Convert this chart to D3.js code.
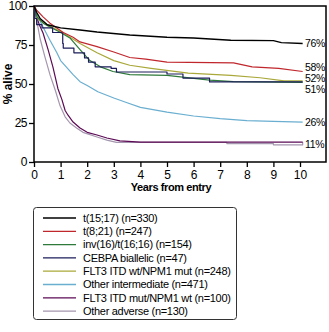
<!DOCTYPE html>
<html><head><meta charset="utf-8">
<script src="https://cdnjs.cloudflare.com/ajax/libs/d3/7.8.5/d3.min.js"></script>
<style>body{margin:0;background:#fff}svg{display:block}text{font-family:"Liberation Sans",Arial,sans-serif}</style>
</head><body><div id="chart"></div>
<script>
const xTicks = [0,1,2,3,4,5,6,7,8,9,10];
const yTicks = [0,25,50,75,100];
const groups = ["t(15;17) (n=330)","t(8;21) (n=247)","inv(16)/t(16;16) (n=154)","CEBPA biallelic (n=47)","FLT3 ITD wt/NPM1 mut (n=248)","Other intermediate (n=471)","FLT3 ITD mut/NPM1 wt (n=100)","Other adverse (n=130)"];
const colors = ["#000000","#c0272d","#2e7a3a","#1c1c5a","#a9a83a","#6aaed0","#5c0a55","#a496ae"];
const endLabels = ["76%","58%","52%","51%","26%","11%"];
const endLabelY = [76,61,53.6,46.4,25.6,11.5];

const s_t1517 = [[0,100],[0.1,96],[0.23,92],[0.5,88],[1,86],[1.73,84.6],[2.37,83.3],[3.6,81.4],[5,80],[6,79.5],[7.4,78],[9,77.8],[9.3,76.5],[10.1,76]];
const s_t821 = [[0,100],[0.1,97.4],[0.34,93],[0.6,89],[1.1,83],[1.47,80],[1.73,77],[2.37,74],[3,70.5],[3.6,67],[4.2,66],[5,64],[7.5,63.5],[8.2,61],[9.2,60],[10.1,58]];
const s_inv16 = [[0,100],[0.11,93],[0.34,89],[0.6,86.5],[1,83],[1.35,79.5],[1.73,72],[2.1,65],[2.5,61],[2.97,58],[3.6,56],[5,55.5],[6.6,52.5],[7.5,51.5],[10.1,51]];
const s_cebpa = [[0,100],[0.03,92],[0.1,88],[0.3,86],[0.7,83],[1.08,76],[1.1,73],[1.5,70],[1.9,66.7],[2.05,64],[2.3,61],[2.9,60],[3.1,57.7],[5,56.4],[5.6,53.8],[6.6,51.3],[10.1,51.3]];
const s_flt3wt = [[0,100],[0.11,92],[0.5,88],[1.1,82.7],[1.73,76],[2.37,70],[3,65],[3.6,62],[4.4,60],[5.8,57],[7.4,55.5],[8.5,54],[9.4,52],[10.1,52]];
const s_otherint = [[0,100],[0.15,93],[0.34,86.5],[0.6,78],[0.86,70],[1,65],[1.47,56],[1.73,51.5],[2,49],[2.4,45],[3,41],[3.5,38],[4,35],[5,32],[6,29.5],[7,27.8],[8,26.5],[9,26],[10.1,25.6]];
const s_flt3mut = [[0,100],[0.1,93],[0.2,88],[0.34,82.7],[0.53,72],[0.71,61],[0.9,47],[1.05,40],[1.17,33],[1.28,30],[1.47,25.6],[1.73,21.8],[2,19],[2.37,17.3],[2.74,15.4],[3.23,13.5],[4,12.8],[10.1,12.8]];
const s_otheradv = [[0,100],[0.05,95],[0.12,89],[0.23,79],[0.4,68],[0.6,56],[0.8,46],[0.98,36],[1.17,29],[1.35,25],[1.6,21.8],[1.84,19],[2.37,16],[2.74,14],[3.1,12.6],[7.25,12.6],[7.25,11.8],[9,11.8],[9,11],[10.1,11],[10.1,12.8]];
const seriesList = [s_t1517,s_t821,s_inv16,s_cebpa,s_flt3wt,s_otherint,s_flt3mut,s_otheradv];
const drawOrder = [5,7,6,4,2,3,1,0];

const W=329,H=332;
const svg=d3.select("#chart").append("svg").attr("width",W).attr("height",H);
const x=d3.scaleLinear().domain([0,10]).range([34,300]);
const y=d3.scaleLinear().domain([0,100]).range([162,6]);

svg.append("rect").attr("x",34).attr("y",6).attr("width",292).attr("height",156)
  .attr("fill","none").attr("stroke","#000").attr("stroke-width",1.5);

const line=d3.line().x(d=>x(d[0])).y(d=>y(d[1]));
const stepLine=d3.line().x(d=>x(d[0])).y(d=>y(d[1])).curve(d3.curveStepAfter);
drawOrder.forEach(i=>{
  svg.append("path").datum(seriesList[i]).attr("fill","none")
    .attr("stroke",colors[i]).attr("stroke-width",i===0?1.4:1.2)
    .attr("stroke-linejoin","round")
    .attr("d",(i===3?stepLine:line));
});

const xAxis=svg.append("g").attr("transform","translate(0,162)")
  .call(d3.axisBottom(x).tickValues(xTicks).tickSize(5).tickPadding(3).tickSizeOuter(0));
xAxis.select(".domain").remove();
xAxis.selectAll("line").attr("stroke-width",1.3);
xAxis.selectAll("text").attr("font-size",12).attr("fill","#000");
const yAxis=svg.append("g").attr("transform","translate(34,0)")
  .call(d3.axisLeft(y).tickValues(yTicks).tickSize(5).tickPadding(2).tickSizeOuter(0));
yAxis.select(".domain").remove();
yAxis.selectAll("line").attr("stroke-width",1.3);
yAxis.selectAll("text").attr("font-size",12).attr("fill","#000").attr("letter-spacing",-0.5);

endLabels.forEach((t,i)=>{
  svg.append("text").attr("x",305).attr("y",y(endLabelY[i])).attr("dy","0.35em")
    .attr("font-size",10.5).attr("letter-spacing",-0.3).text(t);
});

svg.append("text").attr("x",171).attr("y",191).attr("text-anchor","middle")
  .attr("font-size",11).attr("font-weight","bold").attr("letter-spacing",-0.4).text("Years from entry");
svg.append("text").attr("transform","translate(12,84) rotate(-90)").attr("text-anchor","middle")
  .attr("font-size",12).attr("font-weight","bold").text("% alive");

svg.append("rect").attr("x",33.5).attr("y",207.5).attr("width",203).attr("height",112).attr("rx",3)
  .attr("fill","#fff").attr("stroke","#333").attr("stroke-width",1);
groups.forEach((g,i)=>{
  const yy=218+i*13.3;
  svg.append("line").attr("x1",43).attr("x2",76).attr("y1",yy).attr("y2",yy)
    .attr("stroke",colors[i]).attr("stroke-width",1.3);
  svg.append("text").attr("x",83).attr("y",yy).attr("dy","0.35em").attr("font-size",11)
    .attr("letter-spacing",-0.3).text(g);
});
</script></body></html>
